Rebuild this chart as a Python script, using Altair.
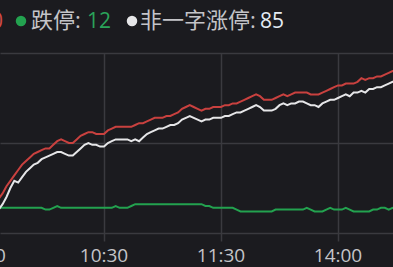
import altair as alt
import pandas as pd

# Trading minutes since 9:30; the lunch break is folded, so 11:30 and 13:00 share minute 120.
minutes = list(range(0, 122, 2)) + list(range(122, 214, 2))

# 涨停 (all limit-up stocks)
limit_up = [
    9, 12, 15, 19, 22, 26, 29, 32, 35, 38,
    40, 42, 44, 45, 46, 47, 47, 49, 51, 52,
    51, 50, 50, 52, 54, 55, 56, 56, 55, 55,
    55, 57, 58, 59, 59, 59, 59, 59, 60, 61,
    61, 62, 63, 64, 64, 64, 65, 65, 66, 67,
    69, 70, 71, 70, 69, 68, 69, 69, 70, 70,
    70,
    71, 71, 72, 72, 73, 74, 75, 76, 77, 76,
    74, 74, 74, 75, 76, 77, 76, 77, 78, 78,
    78, 78, 77, 77, 77, 78, 79, 80, 81, 82,
    82, 83, 83, 83, 84, 86, 85, 86, 86, 87,
    87, 88, 89, 90, 90, 90,
]

# 非一字涨停 (limit-up stocks that traded before sealing)
non_oneword = [
    4, 7, 10, 13, 16, 20, 25, 29, 28, 31,
    34, 36, 38, 39, 41, 42, 43, 44, 45, 45,
    44, 43, 43, 45, 47, 49, 50, 49, 49, 48,
    48, 50, 51, 52, 52, 52, 52, 51, 52, 51,
    53, 55, 56, 57, 58, 58, 59, 60, 60, 61,
    63, 64, 65, 64, 63, 62, 63, 63, 64, 64,
    64,
    65, 65, 66, 67, 67, 68, 69, 70, 71, 70,
    68, 68, 68, 69, 71, 72, 71, 72, 72, 73,
    73, 72, 71, 71, 70, 72, 73, 74, 74, 75,
    76, 77, 76, 78, 78, 79, 78, 80, 80, 81,
    81, 82, 83, 84, 84, 85,
]

# 跌停 (limit-down stocks)
limit_down = [
    15, 14, 14, 14, 14, 14, 14, 14, 14, 14,
    14, 14, 14, 14, 14, 13, 13, 14, 15, 14,
    14, 14, 14, 14, 14, 14, 14, 14, 14, 14,
    14, 14, 14, 15, 14, 14, 14, 15, 16, 16,
    16, 16, 16, 16, 16, 16, 16, 16, 16, 16,
    16, 16, 16, 16, 16, 16, 15, 15, 14, 14,
    14,
    14, 14, 14, 13, 12, 12, 12, 12, 12, 12,
    12, 12, 12, 13, 13, 13, 13, 13, 13, 13,
    13, 14, 13, 12, 12, 12, 13, 14, 13, 13,
    13, 14, 13, 12, 12, 12, 12, 12, 13, 13,
    14, 14, 13, 14, 13, 12,
]

series_names = ["跌停", "非一字涨停", "涨停"]
series_colors = ["#23a24f", "#e6e6e8", "#c9413f"]

tick_minutes = [0, 60, 120, 180]
tick_labels = ["9:30", "10:30", "11:30", "14:00"]

BG = "#1b1b1f"
GRID = "#3a3a3f"
TEXT = "#c4c4c8"
FONT = "Open Sans, Noto Sans CJK SC"

frames = []
for name, vals in zip(series_names, [limit_down, non_oneword, limit_up]):
    frames.append(pd.DataFrame({"minute": minutes, "count": vals, "series": name}))
df = pd.concat(frames, ignore_index=True)

# visible window of the session (minutes)
x_scale = alt.Scale(domain=[6.67, 208.2], nice=False, zero=False)

lines = alt.Chart(df).mark_line(strokeWidth=2, clip=True).encode(
    x=alt.X(
        "minute:Q",
        scale=x_scale,
        axis=alt.Axis(
            values=tick_minutes, grid=True, labels=False, ticks=True, tickSize=8,
            domain=False, title=None, gridColor=GRID, tickColor=GRID, tickWidth=1.5,
            gridWidth=1.5,
        ),
    ),
    y=alt.Y(
        "count:Q",
        scale=alt.Scale(domain=[0, 100], nice=False),
        axis=alt.Axis(
            values=[0, 50, 100], grid=True, labels=False, ticks=False,
            domain=False, title=None, gridColor=GRID, gridWidth=1.5,
        ),
    ),
    color=alt.Color(
        "series:N",
        scale=alt.Scale(domain=series_names, range=series_colors),
        legend=None,
    ),
)

ticks_df = pd.DataFrame({"minute": tick_minutes, "label": tick_labels})
time_labels = alt.Chart(ticks_df).mark_text(
    font=FONT, fontSize=19, color=TEXT, baseline="alphabetic", align="center"
).encode(
    x=alt.X("minute:Q", scale=x_scale),
    y=alt.value(209),
    text="label:N",
)

# header legend: dot, name and latest value for each series
legend_names = ["涨停", "跌停", "非一字涨停"]
legend_values = [limit_up[-1], limit_down[-1], non_oneword[-1]]
legend_colors = ["#c9413f", "#23a24f", "#e6e6e8"]
value_colors = ["#d04a46", "#2aa35a", "#e4ecf4"]
# layout (pixels): dot centre, name start, value start
legend_layout = [(-94, -84, 3), (21, 31, 87), (132, 140, 260)]

legend_layers = []
for i, (name, val) in enumerate(zip(legend_names, legend_values)):
    dot_x, name_x, val_x = legend_layout[i]
    one = pd.DataFrame({"name": [name + ":"], "value": [str(val)]})
    legend_layers.append(
        alt.Chart(one).mark_circle(size=110, opacity=1, color=legend_colors[i]).encode(
            x=alt.value(dot_x), y=alt.value(-32)
        )
    )
    if i == 0:
        # first item is right-aligned to its value
        legend_layers.append(
            alt.Chart(one).mark_text(font=FONT, fontSize=21, color=value_colors[i],
                                     align="right", baseline="alphabetic").encode(
                x=alt.value(val_x), y=alt.value(-25), text="value:N")
        )
        legend_layers.append(
            alt.Chart(one).mark_text(font=FONT, fontSize=22, color=TEXT,
                                     align="right", baseline="alphabetic").encode(
                x=alt.value(val_x - 31), y=alt.value(-25), text="name:N")
        )
    else:
        legend_layers.append(
            alt.Chart(one).mark_text(font=FONT, fontSize=22, color=TEXT,
                                     align="left", baseline="alphabetic").encode(
                x=alt.value(name_x), y=alt.value(-25), text="name:N")
        )
        legend_layers.append(
            alt.Chart(one).mark_text(font=FONT, fontSize=21, color=value_colors[i],
                                     align="left", baseline="alphabetic").encode(
                x=alt.value(val_x), y=alt.value(-25), text="value:N")
        )

chart = alt.layer(lines, time_labels, *legend_layers).properties(
    width=393,
    height=180,
    autosize=alt.AutoSizeParams(type="none"),
    padding={"top": 53, "left": 0, "right": 0, "bottom": 34},
    background=BG,
).configure_view(strokeWidth=0)

chart.save("out.html", embed_options={"renderer": "svg", "actions": False})
